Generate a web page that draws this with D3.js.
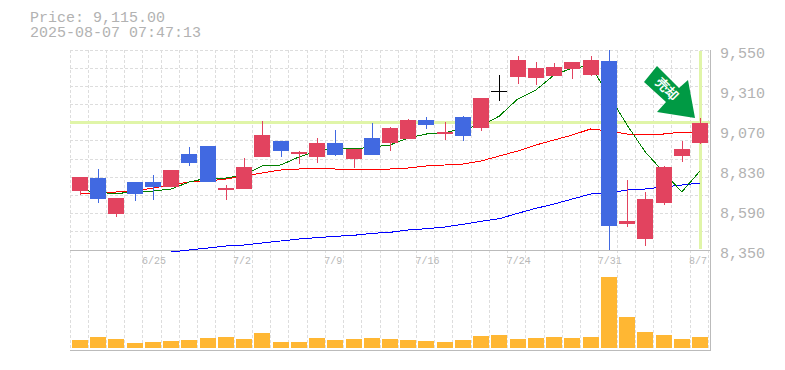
<!DOCTYPE html>
<html>
<head>
<meta charset="utf-8">
<script src="https://cdn.jsdelivr.net/npm/d3@7/dist/d3.min.js"></script>
<style>
html,body{margin:0;padding:0;background:#fff;overflow:hidden}
svg{display:block}
text{font-family:"Liberation Mono",monospace}
</style>
</head>
<body>
<svg id="chart" width="785" height="370"></svg>
<script>
const titlePrice = "Price: 9,115.00";
const titleTime = "2025-08-07 07:47:13";
const dates = ["6/19","6/20","6/23","6/24","6/25","6/26","6/27","6/30","7/1","7/2","7/3","7/4","7/7","7/8","7/9","7/10","7/11","7/14","7/15","7/16","7/17","7/18","7/22","7/23","7/24","7/25","7/28","7/29","7/30","7/31","8/1","8/4","8/5","8/6","8/7"];
const dateTicks = ["6/25","7/2","7/9","7/16","7/24","7/31","8/7"];
const priceTicks = [8350,8590,8830,9070,9310,9550];
const opens  = [8704,8782,8566,8758,8758,8728,8926,8974,8710,8716,8908,9004,8926,8908,8992,8896,9022,8992,9016,9130,9046,9148,9082,9304,9388,9382,9394,9436,9400,9484,8506,8416,8632,8914,8992];
const highs  = [8788,8836,8662,8758,8800,8830,8968,8974,8740,8902,9124,9004,8944,9022,9070,8956,9112,9088,9136,9148,9118,9154,9262,9400,9514,9478,9472,9478,9514,9550,8770,8698,8854,9004,9142];
const lows   = [8680,8632,8548,8644,8650,8728,8854,8758,8650,8716,8908,8908,8866,8872,8914,8842,8920,8944,9016,9076,9010,9004,9064,9244,9346,9340,9394,9376,9394,8350,8488,8374,8620,8878,8986];
const closes = [8788,8656,8662,8686,8728,8830,8872,8758,8722,8848,9040,8944,8938,8992,8920,8956,8920,9082,9130,9100,9058,9034,9262,9304,9490,9442,9448,9478,9490,8494,8524,8656,8848,8956,9115];
const volumes = [80,110,90,50,60,70,80,100,110,90,150,60,60,100,80,90,100,90,80,70,60,80,120,130,90,100,110,100,110,710,310,160,130,90,110];
const maShort = [8710,8698,8686,8704,8704,8716,8758,8782,8782,8800,8854,8860,8908,8944,8962,8956,8968,8980,9022,9046,9052,9082,9094,9154,9256,9310,9400,9442,9454,9280,9100,8938,8818,8698,8824];
const maMid = [8692,8692,8698,8704,8722,8740,8758,8764,8776,8794,8812,8830,8836,8842,8836,8836,8836,8836,8842,8854,8860,8866,8884,8914,8944,8980,9010,9040,9076,9064,9046,9046,9046,9058,9058];
const maLong = [null,null,null,null,null,8338,8350,8362,8374,8380,8392,8404,8416,8424,8432,8438,8450,8456,8470,8478,8488,8504,8522,8538,8570,8600,8626,8656,8686,8692,8710,8716,8728,8740,8752];
const lastPrice = 9115;
const signalLabel = "売却";

const COL_UP="#e2435f", COL_DOWN="#4169e1", COL_FLAT="#000000", COL_VOL="#ffb733",
      COL_GRID="#dddddd", COL_AXIS="#bbbbbb", COL_MARK="#e0f5a8", COL_TEXT="#b2b2b2", COL_ARROW="#009a44";
const svg=d3.select("#chart");
const L=70,R=710,T=50,B=250;
const x=d3.scalePoint().domain(dates).range([80,700]);
const y=d3.scaleLinear().domain([8350,9550]).range([B,T]);
const v=d3.scaleLinear().domain([0,d3.max(volumes)]).range([348,277]);
const px=d=>Math.round(x(d));
const idx=dates.map((d,i)=>i);

// title
svg.append("text").attr("x",30).attr("y",22).attr("font-size",15).attr("fill",COL_TEXT).text(titlePrice);
svg.append("text").attr("x",30).attr("y",37).attr("font-size",15).attr("fill",COL_TEXT).text(titleTime);

// grid
const grid=svg.append("g").attr("stroke",COL_GRID).attr("stroke-dasharray","3,2").attr("shape-rendering","crispEdges");
const gridX=dates.map(d=>Math.floor(x(d)-10)+0.5).concat([708.5]);
grid.selectAll("line.v").data(gridX).join("line").attr("class","v")
  .attr("x1",d=>d).attr("x2",d=>d).attr("y1",T).attr("y2",350);
grid.selectAll("line.h").data(d3.range(0,11)).join("line").attr("class","h")
  .attr("x1",L).attr("x2",R).attr("y1",i=>Math.floor(T+i*(B-T)/11)+0.5).attr("y2",i=>Math.floor(T+i*(B-T)/11)+0.5);

// frame
const frame=svg.append("g").attr("stroke",COL_AXIS).attr("shape-rendering","crispEdges");
frame.append("line").attr("x1",L).attr("x2",R).attr("y1",B+.5).attr("y2",B+.5);
frame.append("line").attr("x1",L).attr("x2",R).attr("y1",350.5).attr("y2",350.5);
frame.append("line").attr("x1",R+.5).attr("x2",R+.5).attr("y1",T).attr("y2",351);

// current price markers
svg.append("rect").attr("x",L).attr("width",R-L).attr("y",Math.floor(y(lastPrice))-1).attr("height",3).attr("fill",COL_MARK);
svg.append("rect").attr("x",px(dates[34])-1).attr("width",3).attr("y",T+1).attr("height",B-T-2).attr("fill",COL_MARK);

// axes
const ax=svg.append("g").attr("transform",`translate(0,${B})`)
  .call(d3.axisBottom(x).tickValues(dateTicks).tickSize(0).tickPadding(7));
ax.select(".domain").remove();
ax.selectAll("text").attr("font-size",10).attr("font-family","Liberation Mono").attr("fill","#b8b8b8")
  .attr("text-anchor","start").attr("dx",-11.5);
const ay=svg.append("g").attr("transform",`translate(${R},0)`)
  .call(d3.axisRight(y).tickValues(priceTicks).tickFormat(d3.format(",")).tickSize(0).tickPadding(10));
ay.select(".domain").remove();
ay.selectAll("text").attr("font-size",15).attr("font-family","Liberation Mono").attr("fill",COL_TEXT).attr("dy","0.5em");

// volume
svg.append("g").selectAll("rect").data(idx).join("rect")
  .attr("x",i=>px(dates[i])-8).attr("width",16)
  .attr("y",i=>v(volumes[i])).attr("height",i=>348-v(volumes[i]))
  .attr("fill",COL_VOL).attr("shape-rendering","crispEdges");

// moving averages
const mkLine=a=>d3.line().defined(i=>a[i]!==null).x(i=>x(dates[i])).y(i=>y(a[i]))(idx);
[[maLong,"#0000ff"],[maMid,"#ff0000"],[maShort,"#008000"]].forEach(([a,c])=>{
  svg.append("path").attr("d",mkLine(a)).attr("fill","none").attr("stroke",c).attr("stroke-width",1).attr("shape-rendering","crispEdges");
});

// candles
const colour=i=>closes[i]>opens[i]?COL_UP:(closes[i]<opens[i]?COL_DOWN:COL_FLAT);
const c=svg.append("g").attr("shape-rendering","crispEdges");
c.selectAll("rect.w").data(idx).join("rect").attr("class","w")
  .attr("x",i=>px(dates[i])).attr("width",1)
  .attr("y",i=>y(highs[i])).attr("height",i=>y(lows[i])-y(highs[i]))
  .attr("fill",colour);
c.selectAll("rect.b").data(idx).join("rect").attr("class","b")
  .attr("x",i=>px(dates[i])-8).attr("width",16)
  .attr("y",i=>y(Math.max(opens[i],closes[i])))
  .attr("height",i=>Math.max(1,Math.abs(y(opens[i])-y(closes[i]))))
  .attr("fill",colour);

// signal arrow, positioned from the last candle's high
const ax0=px(dates[34])-5, ay0=y(lastPrice)-4.5;
const arrowShape=[[-38,-52],[-16,-30],[-7,-38],[0,0],[-38,-6],[-29,-16],[-51,-36]];
svg.append("polygon").attr("points",arrowShape.map(p=>[ax0+p[0],ay0+p[1]].join(",")).join(" ")).attr("fill",COL_ARROW);
svg.append("text").attr("transform",`translate(${ax0-28},${ay0-29}) rotate(45)`)
  .attr("text-anchor","middle").attr("font-size",13).attr("font-weight",700)
  .attr("font-family","'Noto Sans CJK JP'").attr("fill","#fff").attr("dy","0.35em").text(signalLabel);
</script>
</body>
</html>
